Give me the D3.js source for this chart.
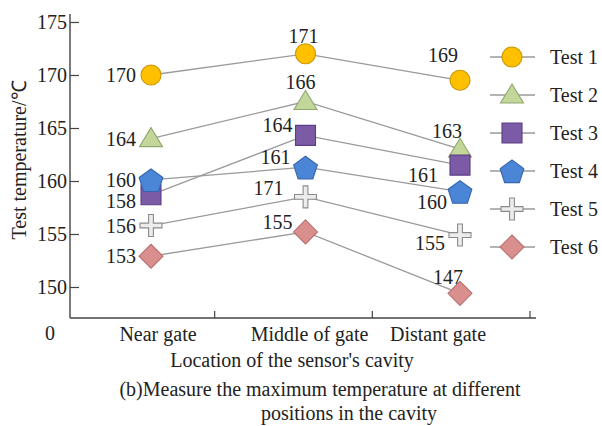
<!DOCTYPE html>
<html>
<head>
<meta charset="utf-8">
<script src="https://cdn.jsdelivr.net/npm/d3@7"></script>
<style>
  body { margin: 0; background: #fff; }
  svg text { font-family: "Liberation Serif", "Times New Roman", serif; fill: #222; }
</style>
</head>
<body>
<svg id="chart" width="602" height="426"></svg>
<script>
// categories along x
const categories = ['Near gate', 'Middle of gate', 'Distant gate'];
const seriesNames = ['Test 1', 'Test 2', 'Test 3', 'Test 4', 'Test 5', 'Test 6'];

// plotted positions (as drawn in the figure)
const test1 = [170, 172, 169.5];
const test2 = [164, 167.5, 163];
const test3 = [158.7, 164.3, 161.5];
const test4 = [160.1, 161.3, 159];
const test5 = [155.8, 158.5, 154.9];
const test6 = [152.9, 155.2, 149.4];

// value labels printed next to each point
const labels1 = ['170', '171', '169'];
const labels2 = ['164', '166', '163'];
const labels3 = ['158', '164', '161'];
const labels4 = ['160', '161', '160'];
const labels5 = ['156', '171', '155'];
const labels6 = ['153', '155', '147'];

const yTicks = [150, 155, 160, 165, 170, 175];

const values = [test1, test2, test3, test4, test5, test6];
const valueLabels = [labels1, labels2, labels3, labels4, labels5, labels6];

// styles
const fills = ['#FFC000', '#C4D79B', '#7B5BA6', '#4A85D6', '#ECECEC', '#DA8F8F'];
const strokes = ['#C99500', '#8FA870', '#5B3F86', '#3466AD', '#8A8A8A', '#B87070'];
// label offsets (dx, dy, anchor) per series per category
const labelPos = [
    [[-15, 0, 'end'], [-2, -18, 'middle'], [-17, -25, 'middle']],
    [[-15, 0, 'end'], [-5, -20, 'middle'], [-13, -18, 'middle']],
    [[-15, 6, 'end'], [-28, -10, 'middle'], [-37, 10, 'middle']],
    [[-15, 0, 'end'], [-30, -10, 'middle'], [-28, 10, 'middle']],
    [[-15, 0, 'end'], [-37, -9, 'middle'], [-30, 8, 'middle']],
    [[-15, 0, 'end'], [-28, -10, 'middle'], [-12, -16, 'middle']]
];
const catDx = [7, 4, -22];
const fs = 20;

const svg = d3.select('#chart');

const x = d3.scalePoint().domain(categories).range([151, 460]);
const xBand = d3.scaleBand().domain(categories).range([57, 530]);
const y = d3.scaleLinear().domain([150, 175]).range([287, 22]);

const axisX0 = 70, axisY0 = 318;

// y axis
const yAxis = svg.append('g')
    .attr('transform', `translate(${axisX0},0)`)
    .call(d3.axisLeft(y).tickValues(yTicks).tickSize(-9).tickPadding(3));
yAxis.select('.domain').remove();
yAxis.selectAll('line').attr('stroke', '#444').attr('stroke-width', 1.2);
yAxis.selectAll('text').attr('font-size', fs).attr('fill', '#222')
    .attr('font-family', '"Liberation Serif", serif');

svg.append('line')
    .attr('x1', axisX0).attr('x2', axisX0)
    .attr('y1', 14).attr('y2', axisY0)
    .attr('stroke', '#444').attr('stroke-width', 1.4);

// x axis
svg.append('line')
    .attr('x1', axisX0).attr('x2', 536)
    .attr('y1', axisY0).attr('y2', axisY0)
    .attr('stroke', '#444').attr('stroke-width', 1.4);

svg.selectAll('.xtick')
    .data(categories)
    .join('line')
    .attr('class', 'xtick')
    .attr('x1', d => xBand(d) + xBand.bandwidth())
    .attr('x2', d => xBand(d) + xBand.bandwidth())
    .attr('y1', axisY0).attr('y2', axisY0 - 7)
    .attr('stroke', '#444').attr('stroke-width', 1.2);

svg.selectAll('.xlabel')
    .data(categories)
    .join('text')
    .attr('class', 'xlabel')
    .attr('x', (d, i) => x(d) + catDx[i])
    .attr('y', 341)
    .attr('text-anchor', 'middle')
    .attr('font-size', fs)
    .text(d => d);

svg.append('text')
    .attr('x', 50).attr('y', 340)
    .attr('text-anchor', 'middle')
    .attr('font-size', fs)
    .text('0');

// titles
svg.append('text')
    .attr('transform', 'translate(26,160) rotate(-90)')
    .attr('text-anchor', 'middle')
    .attr('font-size', 20)
    .text('Test temperature/℃');

svg.append('text')
    .attr('x', 292).attr('y', 367)
    .attr('text-anchor', 'middle')
    .attr('font-size', fs)
    .text("Location of the sensor's cavity");

svg.append('text')
    .attr('x', 320).attr('y', 396)
    .attr('text-anchor', 'middle')
    .attr('font-size', fs)
    .text('(b)Measure the maximum temperature at different');

svg.append('text')
    .attr('x', 349).attr('y', 420)
    .attr('text-anchor', 'middle')
    .attr('font-size', fs)
    .text('positions in the cavity');

// marker shapes
function markerPath(i) {
    switch (i) {
        case 0: return d3.symbol(d3.symbolCircle, Math.PI * 100)();
        case 1: return 'M0,-11L11.5,8L-11.5,8Z';
        case 2: return 'M-10,-10H10V10H-10Z';
        case 3: {
            const r = 12.5;
            const pts = d3.range(5).map(k => {
                const a = -Math.PI / 2 + k * 2 * Math.PI / 5;
                return [r * Math.cos(a), r * Math.sin(a) + 1.5];
            });
            return 'M' + pts.map(p => p.join(',')).join('L') + 'Z';
        }
        case 4: {
            const a = 2.4, b = 11;
            return `M${-a},${-b}H${a}V${-a}H${b}V${a}H${a}V${b}H${-a}V${a}H${-b}V${-a}H${-a}Z`;
        }
        case 5: return 'M0,-12L12,0L0,12L-12,0Z';
    }
}

const line = d3.line()
    .x((d, i) => x(categories[i]))
    .y(d => y(d));

// series lines
svg.append('g')
    .selectAll('path')
    .data(values)
    .join('path')
    .attr('d', line)
    .attr('fill', 'none')
    .attr('stroke', '#9A9A9A')
    .attr('stroke-width', 1.3);

// markers and labels
values.forEach((vals, s) => {
    const g = svg.append('g');
    g.selectAll('path')
        .data(vals)
        .join('path')
        .attr('transform', (d, i) => `translate(${x(categories[i])},${y(d)})`)
        .attr('d', markerPath(s))
        .attr('fill', fills[s])
        .attr('stroke', strokes[s])
        .attr('stroke-width', 1.1);
    g.selectAll('text')
        .data(vals)
        .join('text')
        .attr('x', (d, i) => x(categories[i]) + labelPos[s][i][0])
        .attr('y', (d, i) => y(d) + labelPos[s][i][1])
        .attr('dy', '0.35em')
        .attr('text-anchor', (d, i) => labelPos[s][i][2])
        .attr('font-size', fs)
        .text((d, i) => valueLabels[s][i]);
});

// legend
const legend = svg.append('g').attr('transform', 'translate(490,57)');
const rows = legend.selectAll('g')
    .data(seriesNames)
    .join('g')
    .attr('transform', (d, i) => `translate(0,${i * 38})`);
rows.append('line')
    .attr('x1', 0).attr('x2', 45)
    .attr('stroke', '#9A9A9A').attr('stroke-width', 1.3);
rows.append('path')
    .attr('transform', 'translate(22,0)')
    .attr('d', (d, i) => markerPath(i))
    .attr('fill', (d, i) => fills[i])
    .attr('stroke', (d, i) => strokes[i])
    .attr('stroke-width', 1.1);
rows.append('text')
    .attr('x', 60).attr('dy', '0.35em')
    .attr('font-size', fs)
    .text(d => d);
</script>
</body>
</html>
